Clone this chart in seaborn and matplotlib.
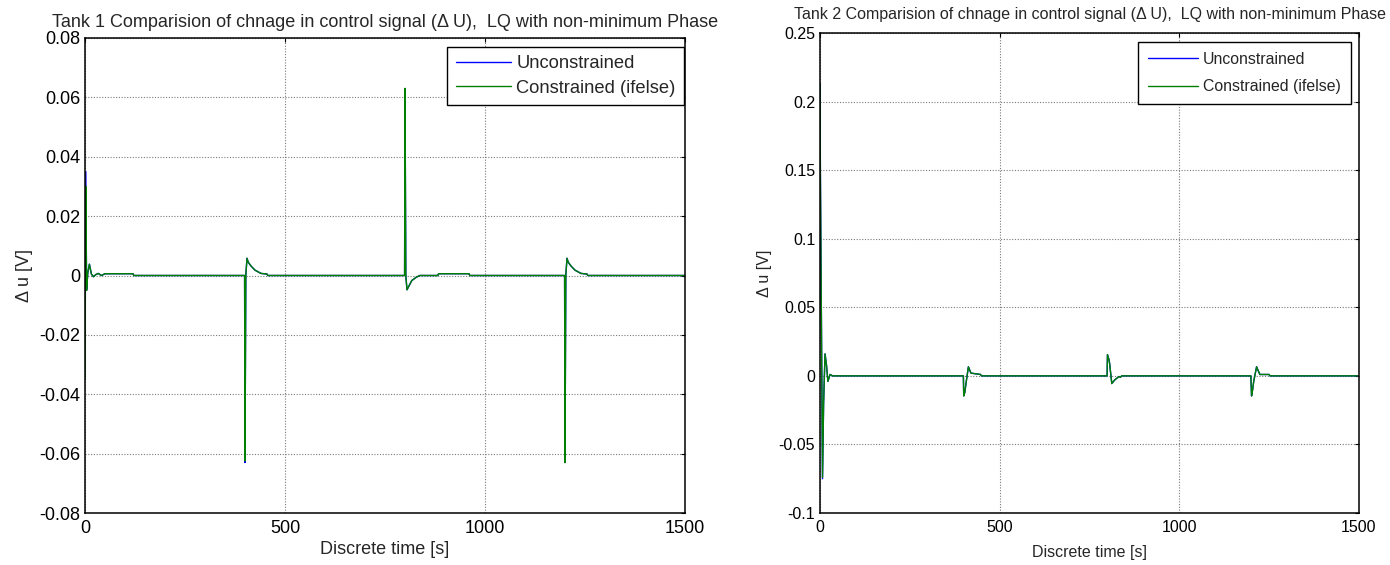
import numpy as np
import pandas as pd
import matplotlib
matplotlib.use("Agg")
import matplotlib.pyplot as plt
import seaborn as sns

# ---------------- data (key samples of each series) ----------------
tank1_t = [0, 2, 4, 7, 11, 16, 21, 27, 33, 41, 50, 120, 122,
           399, 400, 402, 405, 408, 415, 425, 440, 455, 457,
           799, 800, 802, 805, 810, 817, 828, 837, 882, 884, 960, 962,
           1199, 1200, 1202, 1205, 1208, 1215, 1225, 1240, 1255, 1257, 1500]
tank1_unc = [0.0, 0.035, -0.005, 0.001, 0.0038, 0.0005, -0.0004, 0.0003, 0.0007, 0.0, 0.0006, 0.0006, 0.0,
             0.0, -0.063, 0.0, 0.0058, 0.0045, 0.0032, 0.0018, 0.0007, 0.0005, 0.0,
             0.0, 0.063, 0.0, -0.0048, -0.0035, -0.0017, -0.0006, 0.0, 0.0, 0.0006, 0.0006, 0.0,
             0.0, -0.063, 0.0, 0.0058, 0.0045, 0.0032, 0.0018, 0.0007, 0.0005, 0.0, 0.0]
tank1_con = [-0.035, 0.030, -0.005, 0.001, 0.0038, 0.0005, -0.0004, 0.0003, 0.0007, 0.0, 0.0006, 0.0006, 0.0,
             0.0, -0.0625, 0.0, 0.0058, 0.0045, 0.0032, 0.0018, 0.0007, 0.0005, 0.0,
             0.0, 0.063, 0.0, -0.0048, -0.0035, -0.0017, -0.0006, 0.0, 0.0, 0.0006, 0.0006, 0.0,
             0.0, -0.063, 0.0, 0.0058, 0.0045, 0.0032, 0.0018, 0.0007, 0.0005, 0.0, 0.0]

tank2_t = [0, 1, 7, 10, 14, 18, 22, 28, 35,
           399, 400, 403, 406, 413, 420, 447, 449,
           799, 800, 804, 806, 812, 820, 832, 836, 840,
           1199, 1201, 1204, 1207, 1215, 1224, 1250, 1252, 1500]
tank2_unc = [0.213, 0.15, -0.075, -0.02, 0.016, 0.008, -0.004, 0.001, 0.0,
             0.0, -0.0146, -0.012, -0.006, 0.0066, 0.002, 0.001, 0.0,
             0.0, 0.0155, 0.012, 0.009, -0.0056, -0.003, -0.0005, -0.001, 0.0,
             0.0, -0.0146, -0.010, -0.004, 0.0066, 0.001, 0.001, 0.0, 0.0]
tank2_con = [0.213, 0.15, -0.074, -0.02, 0.016, 0.008, -0.004, 0.001, 0.0,
             0.0, -0.0146, -0.012, -0.006, 0.0066, 0.002, 0.001, 0.0,
             0.0, 0.0155, 0.012, 0.009, -0.0056, -0.003, -0.0005, -0.001, 0.0,
             0.0, -0.0146, -0.010, -0.004, 0.0066, 0.001, 0.001, 0.0, 0.0]

series_names = ["Unconstrained", "Constrained (ifelse)"]
series_colors = {"Unconstrained": "#0000ff", "Constrained (ifelse)": "#008000"}

titles = ["Tank 1 Comparision of chnage in control signal (\u0394 U),  LQ with non-minimum Phase",
          "Tank 2 Comparision of chnage in control signal (\u0394 U),  LQ with non-minimum Phase"]
xlabel = "Discrete time [s]"
ylabel = "\u0394 u [V]"
x_ticks = [0, 500, 1000, 1500]
y_ticks_1 = [-0.08, -0.06, -0.04, -0.02, 0, 0.02, 0.04, 0.06, 0.08]
y_labels_1 = ["-0.08", "-0.06", "-0.04", "-0.02", "0", "0.02", "0.04", "0.06", "0.08"]
y_ticks_2 = [-0.1, -0.05, 0, 0.05, 0.1, 0.15, 0.2, 0.25]
y_labels_2 = ["-0.1", "-0.05", "0", "0.05", "0.1", "0.15", "0.2", "0.25"]

# ---------------- style ----------------
sns.set_theme(style="white")
plt.rcParams["font.family"] = ["Liberation Sans", "DejaVu Sans"]

W, H = 1390, 565
fig = plt.figure(figsize=(W / 100, H / 100), dpi=100)
fig.patch.set_facecolor("white")

def px_axes(x0, y0, x1, y1):
    return fig.add_axes([x0 / W, 1 - y1 / H, (x1 - x0) / W, (y1 - y0) / H])

ax1 = px_axes(85, 38, 685, 513)
ax2 = px_axes(820, 33, 1359, 513)

def make_df(t, unc, con):
    return pd.concat([
        pd.DataFrame({"t": t, "v": unc, "series": series_names[0]}),
        pd.DataFrame({"t": t, "v": con, "series": series_names[1]}),
    ], ignore_index=True)

configs = [
    dict(ax=ax1, df=make_df(tank1_t, tank1_unc, tank1_con), ylim=(-0.08, 0.08), yt=y_ticks_1, yl=y_labels_1,
         title=titles[0], tfs=13, tpad=8, fs=13, lpos=(0.998, 0.981), lfs=13.2,
         lsp=0.4, lbp=0.45, hl=3.0, ylp=4, xlp=3),
    dict(ax=ax2, df=make_df(tank2_t, tank2_unc, tank2_con), ylim=(-0.1, 0.25), yt=y_ticks_2, yl=y_labels_2,
         title=titles[1], tfs=11.5, tpad=10, fs=11.5, lpos=(0.985, 0.981), lfs=11.4,
         lsp=0.78, lbp=0.62, hl=3.2, ylp=5, xlp=7),
]

for c in configs:
    ax = c["ax"]
    sns.lineplot(data=c["df"], x="t", y="v", hue="series", hue_order=series_names,
                 palette=series_colors, linewidth=1.0, ax=ax, sort=False,
                 estimator=None, legend=True)
    ax.set_xlim(0, 1500)
    ax.set_ylim(*c["ylim"])
    ax.set_xticks(x_ticks)
    ax.set_xticklabels([str(v) for v in x_ticks])
    ax.set_yticks(c["yt"])
    ax.set_yticklabels(c["yl"])
    ax.grid(True, color="#7a7a7a", linestyle=(0, (1, 1.5)), linewidth=0.8)
    for s in ax.spines.values():
        s.set_visible(True)
        s.set_color("black")
        s.set_linewidth(1.1)
    ax.tick_params(direction="in", length=3, width=0.8, top=True, right=True,
                   labelsize=c["fs"], colors="black")
    ax.tick_params(axis="y", pad=3.5)
    ax.tick_params(axis="x", pad=5)
    ax.set_xlabel(xlabel, fontsize=c["fs"], labelpad=c["xlp"])
    ax.set_ylabel(ylabel, fontsize=c["fs"], labelpad=c["ylp"])
    ax.set_title(c["title"], fontsize=c["tfs"], pad=c["tpad"])
    leg = ax.legend(loc="upper right", bbox_to_anchor=c["lpos"], borderaxespad=0,
                    fontsize=c["lfs"], frameon=True, fancybox=False, framealpha=1,
                    edgecolor="black", handlelength=c["hl"], borderpad=c["lbp"],
                    labelspacing=c["lsp"], handletextpad=0.3)
    leg.get_frame().set_linewidth(1.0)
    for h in leg.get_lines():
        h.set_linewidth(1.0)

fig.savefig("out.png", dpi=100)
